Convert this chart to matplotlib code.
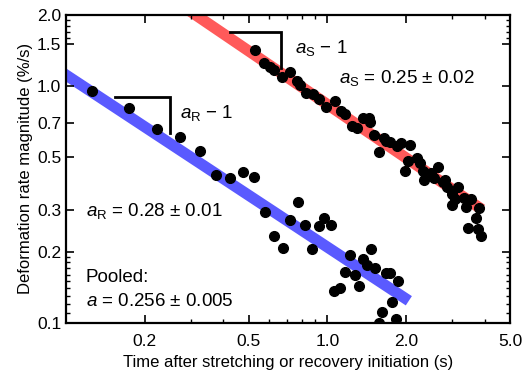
import matplotlib
matplotlib.use("Agg")
import matplotlib.pyplot as plt
import numpy as np
from matplotlib.ticker import FixedLocator, NullFormatter

plt.rcParams["font.family"] = ["Liberation Sans", "DejaVu Sans"]
plt.rcParams["mathtext.fontset"] = "custom"
plt.rcParams["mathtext.rm"] = "Liberation Sans"
plt.rcParams["mathtext.it"] = "Liberation Sans:italic"

# recovery data (blue fit)
t_rec = [0.126, 0.174, 0.223, 0.274, 0.326, 0.376, 0.425, 0.477, 0.525, 0.578,
         0.627, 0.677, 0.721, 0.774, 0.824, 0.877, 0.925, 0.975, 1.03, 1.225,
         1.172, 1.28, 1.327, 1.374, 1.474, 1.423, 1.527, 1.683, 1.742, 1.871,
         1.064, 1.122, 1.775, 1.625, 1.58, 1.837]
r_rec = [0.955, 0.809, 0.660, 0.611, 0.532, 0.422, 0.410, 0.434, 0.414, 0.294,
         0.233, 0.207, 0.272, 0.324, 0.259, 0.205, 0.257, 0.278, 0.259, 0.194,
         0.164, 0.160, 0.143, 0.186, 0.205, 0.176, 0.171, 0.163, 0.163, 0.150,
         0.136, 0.141, 0.123, 0.111, 0.100, 0.104]

# stretching data (red fit)
t_str = [0.530, 0.574, 0.605, 0.627, 0.673, 0.721, 0.767, 0.789, 0.832, 0.883,
         0.925, 0.991, 1.07, 1.13, 1.17, 1.24, 1.30, 1.37, 1.44, 1.46,
         1.51, 1.57, 1.64, 1.68, 1.74, 1.85, 1.92, 2.08, 2.03, 2.21,
         2.27, 1.99, 2.33, 2.35, 2.50, 2.64, 2.55, 2.76, 2.81, 2.88,
         3.15, 3.01, 3.09, 3.01, 3.32, 3.53, 3.38, 3.79, 3.69, 3.44,
         3.76, 3.86]
r_str = [1.42, 1.25, 1.21, 1.17, 1.09, 1.15, 1.05, 1.01, 0.936, 0.927,
         0.883, 0.817, 0.867, 0.786, 0.764, 0.679, 0.667, 0.734, 0.734, 0.706,
         0.622, 0.527, 0.604, 0.587, 0.581, 0.559, 0.575, 0.565, 0.483, 0.498,
         0.474, 0.439, 0.439, 0.402, 0.430, 0.456, 0.410, 0.394, 0.402, 0.375,
         0.375, 0.351, 0.334, 0.315, 0.337, 0.334, 0.309, 0.306, 0.278, 0.252,
         0.249, 0.233]

# power-law fits: rate = amp * t**(a - 1)
fit_rec = {"amp": 0.209, "a": 0.273, "t": [0.09, 2.05]}
fit_str = {"amp": 0.837, "a": 0.25, "t": [0.28, 3.9]}

# slope triangles: (t_left, t_right, rate_top, rate_bottom)
tri_rec = [0.154, 0.250, 0.90, 0.635]
tri_str = [0.425, 0.667, 1.70, 1.19]

fig = plt.figure(figsize=(5.28, 3.72), dpi=100)
ax = fig.add_axes([0.125, 0.132, 0.841, 0.828])
ax.set_xscale("log")
ax.set_yscale("log")

for fit, col in [(fit_rec, "#5a5aff"), (fit_str, "#ff5a5a")]:
    tt = np.geomspace(fit["t"][0], fit["t"][1], 50)
    ax.plot(tt, fit["amp"] * tt ** (fit["a"] - 1), color=col, lw=8,
            solid_capstyle="butt", zorder=1)

for tri in (tri_rec, tri_str):
    ax.plot([tri[0], tri[1], tri[1]], [tri[2], tri[2], tri[3]],
            color="black", lw=2, solid_joinstyle="miter", zorder=2)

ax.plot(t_rec, r_rec, "o", color="black", ms=7, zorder=3)
ax.plot(t_str, r_str, "o", color="black", ms=7, zorder=3)

ax.set_xlim(0.1, 5.0)
ax.set_ylim(0.1, 2.0)

xmaj = [0.2, 0.5, 1.0, 2.0, 5.0]
ymaj = [0.1, 0.2, 0.3, 0.5, 0.7, 1.0, 1.5, 2.0]
ax.xaxis.set_major_locator(FixedLocator(xmaj))
ax.set_xticklabels([f"{v:.1f}" for v in xmaj])
ax.xaxis.set_minor_locator(FixedLocator([0.3, 0.4, 0.6, 0.7, 0.8, 0.9, 3.0, 4.0]))
ax.xaxis.set_minor_formatter(NullFormatter())
ax.yaxis.set_major_locator(FixedLocator(ymaj))
ax.set_yticklabels([f"{v:.1f}" for v in ymaj])
ax.yaxis.set_minor_locator(FixedLocator([0.11, 0.12, 0.13, 0.14, 0.15, 0.16, 0.17,
                                         0.18, 0.19, 1.6, 1.7, 1.8, 1.9]))
ax.yaxis.set_minor_formatter(NullFormatter())

ax.tick_params(which="both", direction="in", top=True, right=True, labelsize=12.5)
ax.tick_params(which="major", length=6, width=1.2)
ax.tick_params(which="minor", length=3, width=1)
ax.tick_params(axis="x", which="major", pad=8)
for s in ax.spines.values():
    s.set_linewidth(1.6)

ax.set_xlabel("Time after stretching or recovery initiation (s)", fontsize=12, labelpad=4)
ax.set_ylabel("Deformation rate magnitude (%/s)", fontsize=12, labelpad=3)

kw = dict(transform=ax.transAxes, fontsize=13.5, va="center", ha="left")
ax.text(0.257, 0.682, r"$a_\mathrm{R}$ − 1", **kw)
ax.text(0.516, 0.893, r"$a_\mathrm{S}$ − 1", **kw)
ax.text(0.615, 0.795, r"$a_\mathrm{S}$ = 0.25 ± 0.02", **kw)
ax.text(0.045, 0.364, r"$a_\mathrm{R}$ = 0.28 ± 0.01", **kw)
ax.text(0.045, 0.149, "Pooled:", **kw)
ax.text(0.045, 0.068, r"$a$ = 0.256 ± 0.005", **kw)

fig.savefig("out.png", dpi=100)
